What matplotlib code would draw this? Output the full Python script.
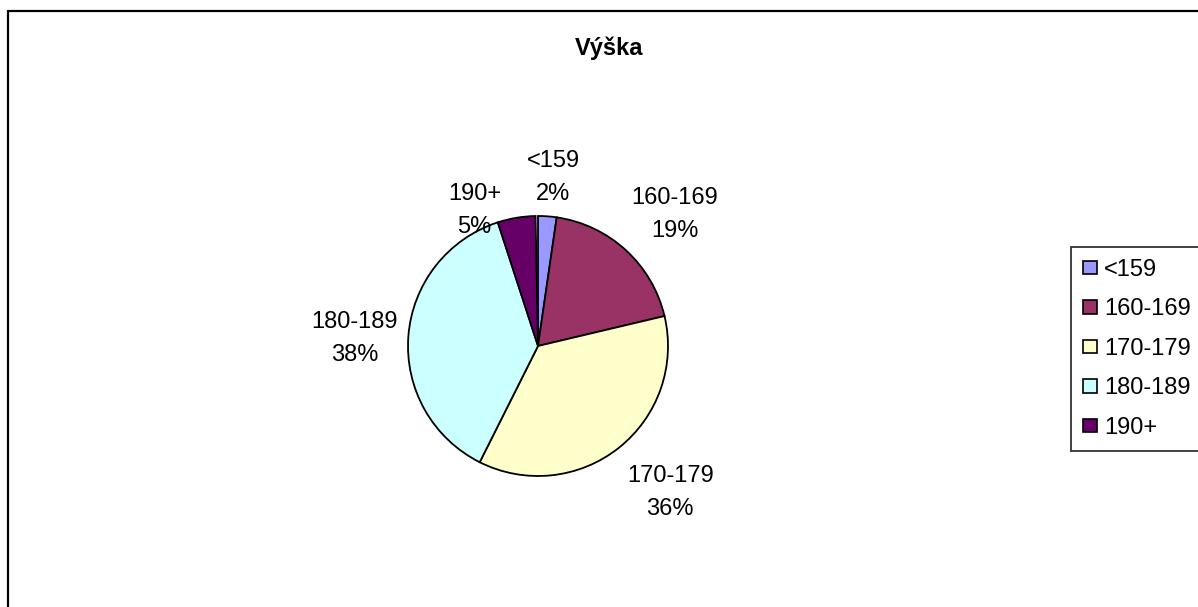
import numpy as np
import matplotlib.pyplot as plt
from matplotlib.patches import Rectangle, Patch

plt.rcParams['font.family'] = ['Liberation Sans', 'DejaVu Sans']

# data (shares of the whole, a sliver at the top is empty)
categories = ['<159', '160-169', '170-179', '180-189', '190+']
shares = [0.023, 0.190, 0.361, 0.376, 0.047]
pct_labels = ['2%', '19%', '36%', '38%', '5%']
colors = ['#9999FF', '#993366', '#FFFFCC', '#CCFFFF', '#660066']

W, H = 1198, 607
fig = plt.figure(figsize=(W / 100, H / 100), dpi=100)

# outer chart frame (right and bottom edges fall outside the picture)
fig.patches.append(Rectangle((7.5 / W, -0.05), 1.2, 1.05 - 11 / H,
                             transform=fig.transFigure, fill=False,
                             edgecolor='black', linewidth=1.6))

fig.text(609 / W, 1 - 48 / H, 'Výška', ha='center', va='center',
         fontsize=17, fontweight='bold')

# pie axes: centre (538, 346) px, radius 130 px
cx, cy, r = 538, 346, 130
ax = fig.add_axes([(cx - r) / W, (H - cy - r) / H, 2 * r / W, 2 * r / H])
wedges, _ = ax.pie(shares, colors=colors, startangle=90, counterclock=False,
                   normalize=False, radius=1,
                   wedgeprops=dict(edgecolor='black', linewidth=1.3))
ax.set_xlim(-1, 1)
ax.set_ylim(-1, 1)
ax.axis('off')

# label placement around each wedge (distance in radii, clockwise shift in deg)
label_r = [1.30, 1.456, 1.52, 1.41, 1.15]
label_shift = [1.0, 3.7, -3.7, -2.1, -15.5]
for w, cat, pct, lr, sh in zip(wedges, categories, pct_labels, label_r, label_shift):
    mid = np.deg2rad((w.theta1 + w.theta2) / 2 - sh)
    ax.text(lr * np.cos(mid), lr * np.sin(mid), cat + '\n' + pct,
            ha='center', va='center', fontsize=17, linespacing=1.65)

handles = [Patch(facecolor=c, edgecolor='black', linewidth=1.2) for c in colors]
fig.legend(handles, categories, loc='upper left',
           bbox_to_anchor=(1071 / W, 1 - 247 / H), fontsize=17,
           frameon=True, fancybox=False, edgecolor='black',
           handlelength=0.6, handleheight=0.5, handletextpad=0.3,
           labelspacing=0.74, borderpad=0.5, borderaxespad=0)
fig.legends[0].get_frame().set_linewidth(1.3)

fig.savefig('out.png', dpi=100)
